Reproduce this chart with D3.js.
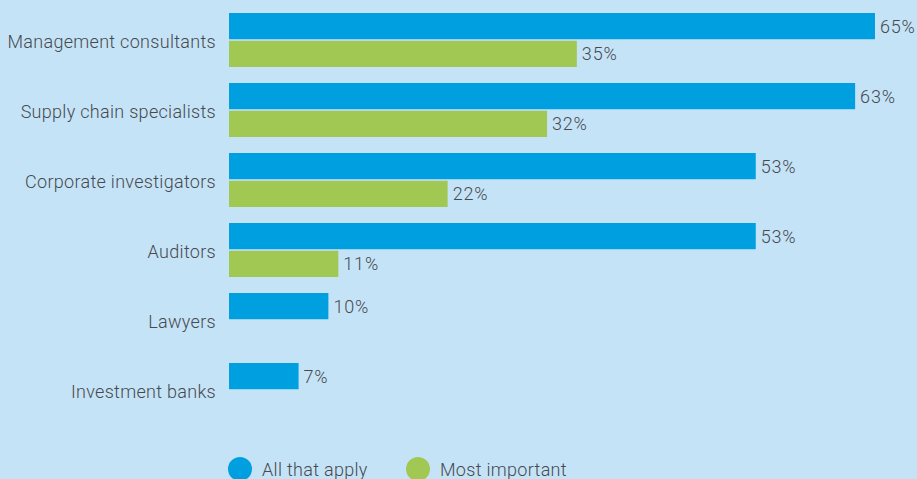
<!DOCTYPE html>
<html>
<head>
<meta charset="utf-8">
<script src="https://cdn.jsdelivr.net/npm/d3@7"></script>
<style>
  html, body { margin: 0; padding: 0; background: #c5e3f7; }
  svg { display: block; }
  text { font-family: "Roboto", "Liberation Sans", sans-serif; font-weight: 300; fill: #454a4f; }
</style>
</head>
<body>
<svg id="chart" width="917" height="479"></svg>
<script>
const categories = [
  "Management consultants",
  "Supply chain specialists",
  "Corporate investigators",
  "Auditors",
  "Lawyers",
  "Investment banks"
];
const allThatApply = [65, 63, 53, 53, 10, 7];
const mostImportant = [35, 32, 22, 11, null, null];
const seriesNames = ["All that apply", "Most important"];
const seriesColors = ["#009fdf", "#a2c854"];

const svg = d3.select("#chart");
const W = 917, H = 479;
const fontSize = 18;

svg.append("rect").attr("width", W).attr("height", H).attr("fill", "#c5e3f7");

const x = d3.scaleLinear().domain([0, 65]).range([229, 875]);
const y = d3.scaleBand().domain(categories).range([13, 417]).paddingInner(16 / 70).paddingOuter(0);
const ySub = d3.scaleBand().domain(seriesNames).range([0, y.bandwidth()]).paddingInner(3 / 54);

const rows = categories.map((c, i) => ({
  category: c,
  values: [
    { series: seriesNames[0], value: allThatApply[i], color: seriesColors[0] },
    { series: seriesNames[1], value: mostImportant[i], color: seriesColors[1] }
  ].filter(d => d.value != null)
}));

const groups = svg.append("g").selectAll("g")
  .data(rows)
  .join("g")
  .attr("transform", d => `translate(0,${y(d.category)})`);

// category labels centred on each group
groups.append("text")
  .attr("x", 216)
  .attr("y", y.bandwidth() / 2 + 1)
  .attr("text-anchor", "end")
  .attr("dominant-baseline", "central")
  .attr("font-size", fontSize)
  .attr("letter-spacing", 0.3)
  .text(d => d.category);

const bars = groups.selectAll("g.bar")
  .data(d => d.values)
  .join("g")
  .attr("class", "bar")
  .attr("transform", d => `translate(0,${ySub(d.series)})`);

bars.append("rect")
  .attr("x", x(0))
  .attr("width", d => x(d.value) - x(0))
  .attr("height", ySub.bandwidth())
  .attr("fill", d => d.color);

bars.append("text")
  .attr("x", d => x(d.value) + 5)
  .attr("y", ySub.bandwidth() / 2)
  .attr("dominant-baseline", "central")
  .attr("font-size", fontSize)
  .attr("letter-spacing", 0.8)
  .text(d => d.value + "%");

// legend
const legend = svg.append("g").selectAll("g")
  .data(seriesNames)
  .join("g")
  .attr("transform", (d, i) => `translate(${[240, 418][i]},469)`);

legend.append("circle")
  .attr("r", 12)
  .attr("fill", (d, i) => seriesColors[i]);

legend.append("text")
  .attr("x", 22)
  .attr("y", 0)
  .attr("dominant-baseline", "central")
  .attr("font-size", fontSize)
  .attr("letter-spacing", 0.3)
  .text(d => d);
</script>
</body>
</html>
